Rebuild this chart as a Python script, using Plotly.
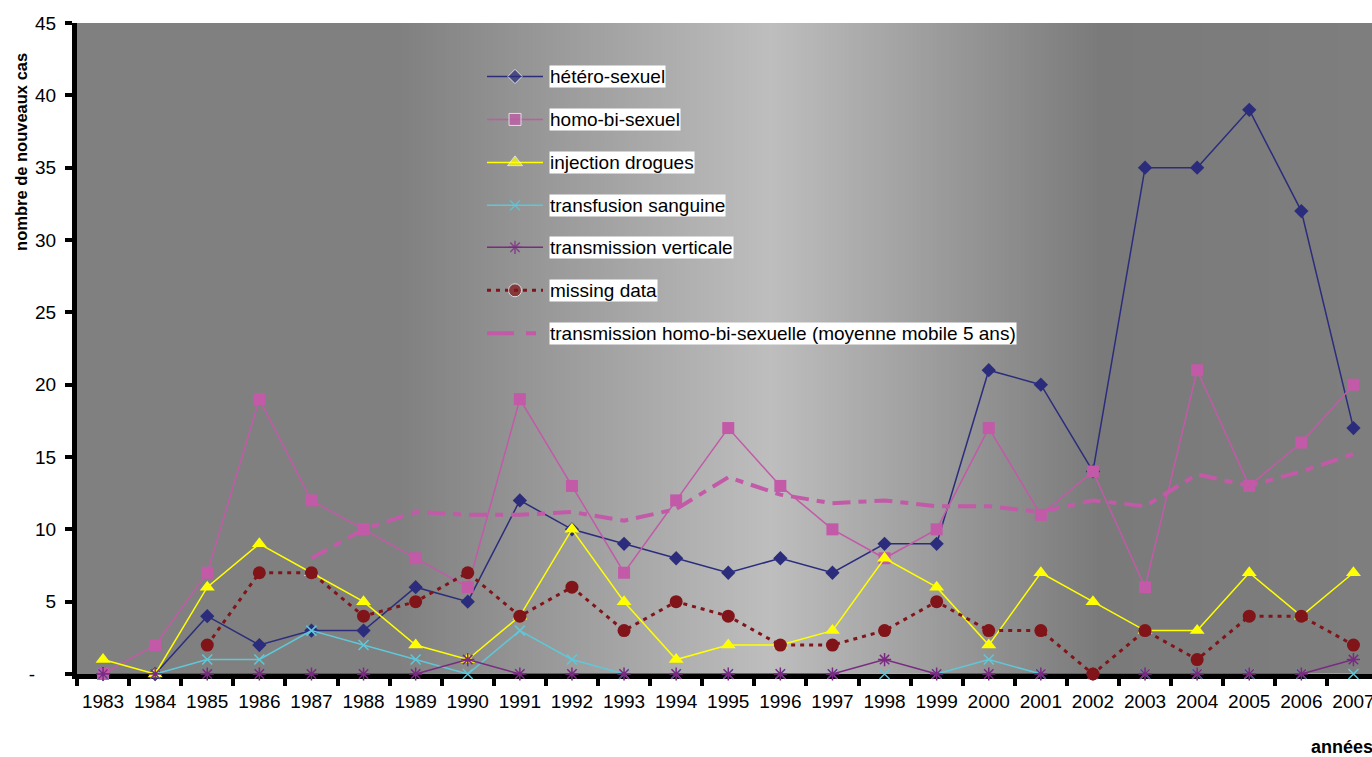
import plotly.graph_objects as go

# ---------------- data ----------------
years = [str(y) for y in range(1983, 2008)]
hetero = [0, 0, 4, 2, 3, 3, 6, 5, 12, 10, 9, 8, 7, 8, 7, 9, 9, 21, 20, 14, 35, 35, 39, 32, 17]
homo = [0, 2, 7, 19, 12, 10, 8, 6, 19, 13, 7, 12, 17, 13, 10, 8, 10, 17, 11, 14, 6, 21, 13, 16, 20]
injection = [1, 0, 6, 9, 7, 5, 2, 1, 4, 10, 5, 1, 2, 2, 3, 8, 6, 2, 7, 5, 3, 3, 7, 4, 7]
transfusion = [0, 0, 1, 1, 3, 2, 1, 0, 3, 1, 0, 0, 0, 0, 0, 0, 0, 1, 0, 0, 0, 0, 0, 0, 0]
verticale = [0, 0, 0, 0, 0, 0, 0, 1, 0, 0, 0, 0, 0, 0, 0, 1, 0, 0, 0, 0, 0, 0, 0, 0, 1]
missing = [None, None, 2, 7, 7, 4, 5, 7, 4, 6, 3, 5, 4, 2, 2, 3, 5, 3, 3, 0, 3, 1, 4, 4, 2]
moyenne = [None, None, None, None, 8.0, 10.0, 11.2, 11.0, 11.0, 11.2, 10.6, 11.4, 13.6,
           12.4, 11.8, 12.0, 11.6, 11.6, 11.2, 12.0, 11.6, 13.8, 13.0, 14.0, 15.2]
y_ticks = [0, 5, 10, 15, 20, 25, 30, 35, 40, 45]
y_ticktext = ["-\u00a0\u00a0\u00a0\u00a0", "5", "10", "15", "20", "25", "30", "35", "40", "45"]
names = ["hétéro-sexuel", "homo-bi-sexuel", "injection drogues", "transfusion sanguine",
         "transmission verticale", "missing data",
         "transmission homo-bi-sexuelle (moyenne mobile 5 ans)"]

# ---------------- styles ----------------
W, H = 1372, 757
L, R, T, B = 77, 1372, 23, 674.5
CAT_W = 52.1
FONT = "Liberation Sans, Arial, sans-serif"

NAVY = "#2b2d7c"
PINK = "#c25aa8"
YELLOW = "#ffff00"
CYAN = "#5fc8d8"
PURPLE = "#7a2a82"
DARKRED = "#801418"

series = [
    dict(y=hetero, color=NAVY, width=1.5, dash="solid",
         marker=dict(symbol="diamond", size=11, color=NAVY)),
    dict(y=homo, color=PINK, width=1.5, dash="solid",
         marker=dict(symbol="square", size=12, color=PINK)),
    dict(y=injection, color=YELLOW, width=1.5, dash="solid",
         marker=dict(symbol="triangle-up", size=13, color=YELLOW)),
    dict(y=transfusion, color=CYAN, width=1.5, dash="solid",
         marker=dict(symbol="x-thin", size=10, color=CYAN, line=dict(color=CYAN, width=1.5))),
    dict(y=verticale, color=PURPLE, width=1.5, dash="solid",
         marker=dict(symbol="asterisk", size=11, color=PURPLE, line=dict(color=PURPLE, width=1.5))),
    dict(y=missing, color=DARKRED, width=3, dash="4px,5px",
         marker=dict(symbol="circle", size=13, color=DARKRED)),
    dict(y=moyenne, color=PINK, width=4, dash="18px,8px,8px,8px", marker=None),
]


def px_x(px):
    return (px - L) / (R - L)


def px_y(py):
    return (B - py) / (B - T)


fig = go.Figure()

# ---------------- gradient background (style only) ----------------
prof = [(L, 128), (400, 128), (770, 190), (1100, 122), (R, 126)]


def gray(px):
    for (x0, g0), (x1, g1) in zip(prof[:-1], prof[1:]):
        if x0 <= px <= x1:
            return g0 + (g1 - g0) * (px - x0) / (x1 - x0)
    return prof[-1][1]


shapes = []
step = 4
px = L
while px < R:
    g = int(round(gray(px + step / 2)))
    shapes.append(dict(type="rect", xref="x domain", yref="y domain",
                       x0=px_x(px), x1=min(1.0, px_x(px + step + 1)),
                       y0=0, y1=1, fillcolor=f"rgb({g},{g},{g})",
                       line=dict(width=0), layer="below"))
    px += step

# ---------------- data traces ----------------
for nm, s in zip(names, series):
    mode = "lines+markers" if s["marker"] else "lines"
    kw = dict(marker=s["marker"]) if s["marker"] else {}
    fig.add_trace(go.Scatter(x=years, y=s["y"], name=nm, mode=mode,
                             line=dict(color=s["color"], width=s["width"], dash=s["dash"]),
                             cliponaxis=False, connectgaps=False, showlegend=False,
                             hoverinfo="x+y+name", **kw))

# ---------------- manual legend (pixel coordinates on overlay axes) ----------------
rows = [76.5, 119.5, 162.5, 205.5, 247.5, 290.5, 333.5]
lx0, lxm, lx1, tx = 487, 515, 543, 549
annotations = []
for nm, s, ry in zip(names, series, rows):
    if s["marker"]:
        mk = dict(s["marker"])
        mk["size"] = [0, mk["size"], 0]
        fig.add_trace(go.Scatter(x=[lx0, lxm, lx1], y=[ry] * 3, xaxis="x2", yaxis="y2",
                                 mode="lines+markers", marker=mk,
                                 line=dict(color=s["color"], width=s["width"], dash=s["dash"]),
                                 cliponaxis=False, showlegend=False, hoverinfo="skip"))
    else:
        fig.add_trace(go.Scatter(x=[lx0, lx1], y=[ry] * 2, xaxis="x2", yaxis="y2",
                                 mode="lines",
                                 line=dict(color=s["color"], width=s["width"], dash="27px,12px,10px,12px"),
                                 cliponaxis=False, showlegend=False, hoverinfo="skip"))
    annotations.append(dict(xref="paper", yref="paper", x=px_x(tx), y=px_y(ry),
                            xanchor="left", yanchor="middle",
                            text=nm, showarrow=False, bgcolor="white", borderpad=0,
                            font=dict(family=FONT, size=19, color="black")))

# axis titles
annotations.append(dict(xref="paper", yref="paper", x=px_x(21), y=px_y(152),
                        text="<b>nombre de nouveaux cas</b>",
                        textangle=-90, showarrow=False, xanchor="center", yanchor="middle",
                        font=dict(family=FONT, size=16.5, color="black")))
annotations.append(dict(xref="paper", yref="paper", x=px_x(1309), y=px_y(748),
                        text="<b>années</b>",
                        showarrow=False, xanchor="left", yanchor="middle",
                        font=dict(family=FONT, size=18, color="black")))

fig.update_layout(
    width=W, height=H,
    margin=dict(l=L, r=W - R, t=T, b=H - B, pad=0, autoexpand=False),
    paper_bgcolor="white", plot_bgcolor="#808080",
    font=dict(family=FONT, size=19, color="black"),
    showlegend=False,
    shapes=shapes,
    annotations=annotations,
    xaxis=dict(type="category", range=[-0.5, -0.5 + (R - L) / CAT_W], automargin=False,
               tickson="boundaries", ticks="outside", ticklen=7, tickwidth=4, tickcolor="black",
               tickangle=0, ticklabelstandoff=6,
               showline=True, linewidth=5, linecolor="black", showgrid=False, zeroline=False,
               tickfont=dict(family=FONT, size=19, color="black"), layer="below traces"),
    yaxis=dict(range=[0, 45], tickvals=y_ticks, ticktext=y_ticktext, automargin=False,
               ticks="outside", ticklen=7, tickwidth=4, tickcolor="black", ticklabelstandoff=5,
               showline=True, linewidth=5, linecolor="black", showgrid=False, zeroline=False,
               tickfont=dict(family=FONT, size=19, color="black"), layer="below traces"),
    xaxis2=dict(overlaying="x", range=[L, R], visible=False, fixedrange=True),
    yaxis2=dict(overlaying="y", range=[B, T], visible=False, fixedrange=True),
)

fig.write_html("out.html", config={"displayModeBar": False},
               post_script="document.body.style.margin='0';document.body.style.overflow='hidden';")
